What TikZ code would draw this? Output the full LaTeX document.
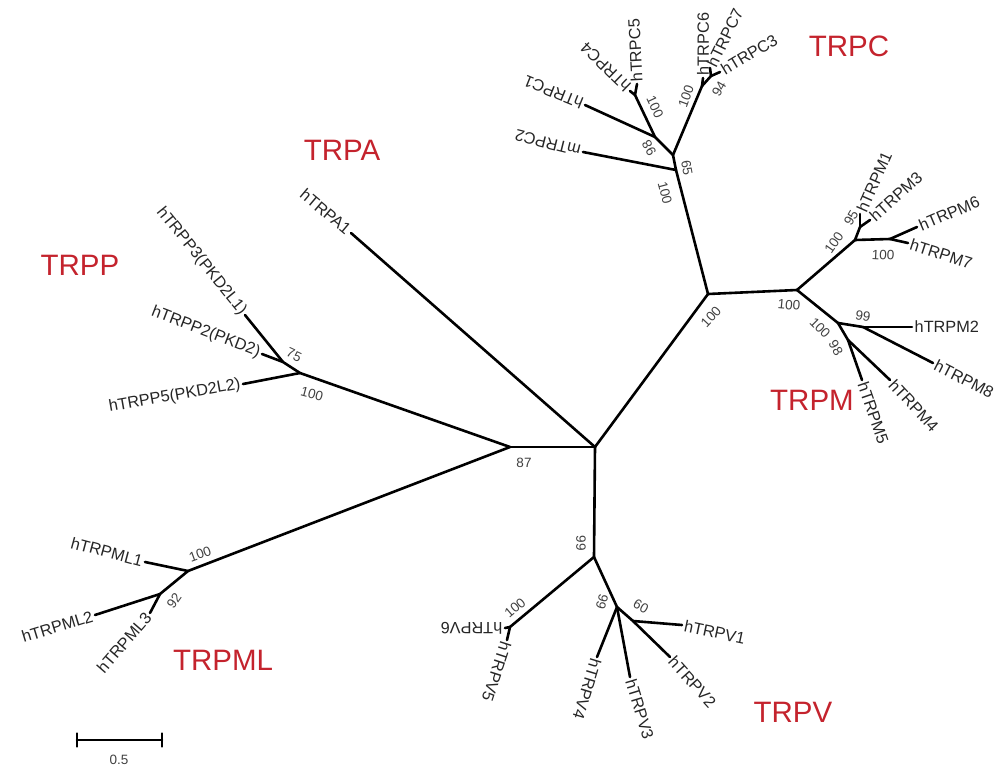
\documentclass[tikz,border=0pt]{standalone}
\usepackage{fontspec}
\setmainfont{Liberation Sans}
\definecolor{famred}{RGB}{196,35,45}
\newcommand{\leaffont}{\fontsize{16.3}{18}\selectfont}
\newcommand{\bootfont}{\fontsize{13.5}{15}\selectfont}
\newcommand{\famfont}{\fontsize{29.5}{32}\selectfont}

\begin{document}
\begin{tikzpicture}[x=1pt,y=-1pt,line cap=round,line join=round,
	branch/.style={line width=2.6pt},
	leaf/.style={font=\leaffont,text=black!85,inner sep=2.5pt},
	boot/.style={font=\bootfont,text=black!75,inner sep=0pt},
	fam/.style={font=\famfont,text=famred}]
	\useasboundingbox (0,0) rectangle (1002,769);

	%backbone
	\coordinate (C0) at (595,447);
	\coordinate (P0) at (510,447);
	\coordinate (M0) at (708,294);
	\coordinate (V0) at (594,557);
	\coordinate (tA1) at (351,233);
	%trpc
	\coordinate (C1) at (676,170);
	\coordinate (tC2) at (583,152);
	\coordinate (C2) at (673,155);
	\coordinate (C3) at (655,137);
	\coordinate (tC1) at (585,105);
	\coordinate (C4) at (635,95);
	\coordinate (tC4) at (630,91);
	\coordinate (tC5) at (637,84);
	\coordinate (C5) at (702,86);
	\coordinate (tC6) at (703,78);
	\coordinate (C6) at (711,76);
	\coordinate (tC7) at (710,68);
	\coordinate (tC3) at (720,72);
	%trpm
	\coordinate (M1) at (797,290);
	\coordinate (M2) at (855,240);
	\coordinate (M2a) at (860,227);
	\coordinate (tM1) at (860,214);
	\coordinate (tM3) at (870,220);
	\coordinate (M2b) at (890,239);
	\coordinate (tM6) at (917,227);
	\coordinate (tM7) at (908,243);
	\coordinate (M3) at (838,323);
	\coordinate (M3b) at (863,327);
	\coordinate (tM2) at (912,327);
	\coordinate (tM8) at (933,363);
	\coordinate (M3c) at (848,340);
	\coordinate (tM5) at (862,380);
	\coordinate (tM4) at (890,380);
	%trpp
	\coordinate (Q) at (300,373);
	\coordinate (Q2) at (283,362);
	\coordinate (tP3) at (245,315);
	\coordinate (tP2) at (262,354);
	\coordinate (tP5) at (243,384);
	%trpml
	\coordinate (L0) at (188,571);
	\coordinate (tL1) at (145,562);
	\coordinate (L1) at (160,594);
	\coordinate (tL2) at (95,615);
	\coordinate (tL3) at (150,613);
	%trpv
	\coordinate (V1) at (510,627);
	\coordinate (tV6) at (505,628);
	\coordinate (tV5) at (507,640);
	\coordinate (V2) at (617,607);
	\coordinate (tV4) at (597,657);
	\coordinate (tV3) at (630,677);
	\coordinate (V3) at (633,621);
	\coordinate (tV1) at (682,625);
	\coordinate (tV2) at (670,657);

	%draw all branches
	\foreach \a/\b in {C0/P0,C0/tA1,C0/M0,C0/V0,
		M0/C1,C1/tC2,C1/C2,C2/C3,C3/tC1,C3/C4,C4/tC4,C4/tC5,C2/C5,C5/tC6,C5/C6,C6/tC7,C6/tC3,
		M0/M1,M1/M2,M2/M2a,M2a/tM1,M2a/tM3,M2/M2b,M2b/tM6,M2b/tM7,
		M1/M3,M3/M3b,M3b/tM2,M3b/tM8,M3/M3c,M3c/tM5,M3c/tM4,
		P0/Q,Q/tP5,Q/Q2,Q2/tP3,Q2/tP2,
		P0/L0,L0/tL1,L0/L1,L1/tL2,L1/tL3,
		V0/V1,V1/tV6,V1/tV5,V0/V2,V2/tV4,V2/tV3,V2/V3,V3/tV2,V3/tV1}{
		\draw[branch] (\a) -- (\b);
	}

	%leaf names
	\foreach \c/\t/\s/\r in {tA1/hTRPA1/east/-40,
		tC2/mTRPC2/west/166,tC1/hTRPC1/west/158,tC4/hTRPC4/west/136,tC5/hTRPC5/west/93,
		tC6/hTRPC6/west/90,tC7/hTRPC7/west/64,tC3/hTRPC3/west/31,
		tM1/hTRPM1/west/66,tM3/hTRPM3/west/42,tM6/hTRPM6/west/23,tM7/hTRPM7/west/-18,
		tM2/hTRPM2/west/0,tM8/hTRPM8/west/-27,tM4/hTRPM4/west/-47,tM5/hTRPM5/west/-71,
		tP3/{hTRPP3(PKD2L1)}/east/-51,tP2/{hTRPP2(PKD2)}/east/-21,tP5/{hTRPP5(PKD2L2)}/east/10,
		tL1/hTRPML1/east/-15,tL2/hTRPML2/east/17,tL3/hTRPML3/east/49,
		tV6/hTRPV6/west/180,tV5/hTRPV5/west/-108,tV4/hTRPV4/west/-107,
		tV3/hTRPV3/west/-73,tV2/hTRPV2/west/-48,tV1/hTRPV1/west/-12}{
		\node[leaf,anchor=\s,rotate=\r] (l\c) at (\c) {\t};
	}

	%bootstrap values
	\foreach \x/\y/\v/\r [count=\i] in {524/463/87/0,711/317/100/47,789/305/100/-5,
		665/193/100/-75,687/168/65/-80,649/148/98/120,655/107/100/-65,686/96/100/70,719/89/94/60,
		834/243/100/55,851/218/95/60,883/255/100/-3,820/328/100/-45,863/316/99/-10,836/348/98/-60,
		312/394/100/-15,294/355/75/-25,200/554/100/20,174/601/92/55,
		581/543/99/-90,515/608/100/40,602/602/99/-106,641/606/60/-30}{
		\node[boot,rotate=\r] (bs\i) at (\x,\y) {\v};
	}

	%family names
	\node[fam] (trpc) at (849,46) {TRPC};
	\node[fam] (trpa) at (342,150) {TRPA};
	\node[fam] (trpp) at (80,265) {TRPP};
	\node[fam] (trpm) at (812,400) {TRPM};
	\node[fam] (trpml) at (223,660) {TRPML};
	\node[fam] (trpv) at (793,712) {TRPV};

	%scale bar
	\coordinate (sb1) at (77,740);
	\coordinate (sb2) at (162,740);
	\draw[branch] (sb1) -- (sb2);
	\draw[branch] ([yshift=-6.5pt]sb1) -- ([yshift=6.5pt]sb1);
	\draw[branch] ([yshift=-6.5pt]sb2) -- ([yshift=6.5pt]sb2);
	\node[boot] (sbl) at (119,760) {0.5};
\end{tikzpicture}
\end{document}
